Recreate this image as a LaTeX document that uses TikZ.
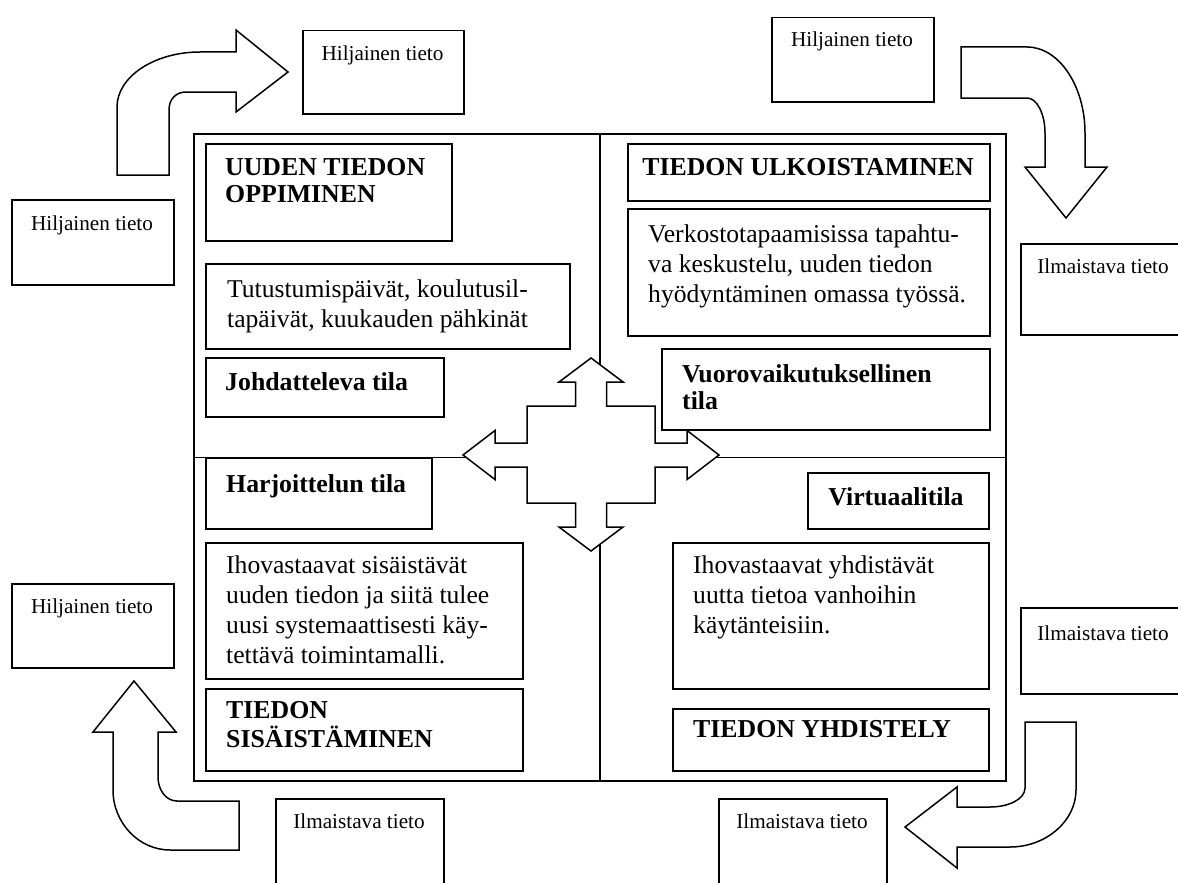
\documentclass[tikz,border=0pt]{standalone}
\usepackage{fontspec}
\setmainfont{Liberation Serif}
\newcommand{\bodyfont}{\fontsize{25.6}{30}\selectfont}
\newcommand{\headfont}{\bfseries\fontsize{25.8}{27.5}\selectfont}
\newcommand{\tagfont}{\fontsize{21.2}{24}\selectfont}
% stacked lines, anchored on the first baseline
\newcommand{\rows}[1]{\begin{tabular}[t]{@{}l@{}}#1\end{tabular}}

\begin{document}
\begin{tikzpicture}[x=1pt,y=-1pt,
  frame/.style={draw, line width=2.2pt},
  divider/.style={line width=1.5pt},
  panel/.style={draw, line width=1.6pt, anchor=north west, inner sep=0pt, fill=white},
  tag/.style={draw, line width=1.5pt, anchor=north west, inner sep=0pt, fill=white},
  body/.style={anchor=base west, inner sep=0pt, font=\bodyfont},
  head/.style={anchor=base west, inner sep=0pt, font=\headfont},
  small/.style={anchor=base, inner sep=0pt, font=\tagfont},
  bigarrow/.style={draw, fill=white, line width=1.5pt, line join=miter},
]
\clip (0,0) rectangle (1178,883);
\fill[white] (0,0) rectangle (1178,883);

% four-field frame
\node[frame, anchor=north west, inner sep=0pt, minimum width=812pt, minimum height=647pt] (frame) at (193,133) {};
\draw[divider] (frame.north) -- (frame.south);
\draw[divider] (frame.west) -- (frame.east);

% central four-way arrow
\draw[bigarrow, shift={(591,455)}] (0,-97) -- (32,-73) -- (15.5,-73) -- (15.5,-49) -- (64,-49) -- (64,-12)
  -- (96,-12) -- (96,-24.5) -- (128,0) -- (96,24.5) -- (96,12) -- (64,12) -- (64,48) -- (15.5,48)
  -- (15.5,72) -- (32,72) -- (0,96) -- (-32,72) -- (-15.5,72) -- (-15.5,48) -- (-64,48) -- (-64,12)
  -- (-96,12) -- (-96,24.5) -- (-128,0) -- (-96,-24.5) -- (-96,-12) -- (-64,-12) -- (-64,-49)
  -- (-15.5,-49) -- (-15.5,-73) -- (-32,-73) -- cycle;

% upper left field
\node[panel, minimum width=246pt, minimum height=97pt] (p1) at (205,143) {};
\node[head] (t1) at (225,175) {\rows{UUDEN TIEDON\\OPPIMINEN}};
\node[panel, minimum width=364pt, minimum height=85pt] (p2) at (205,263) {};
\node[body] (t2) at (227,297) {\rows{Tutustumispäivät, koulutusil-\\tapäivät, kuukauden pähkinät}};
\node[panel, minimum width=238pt, minimum height=59pt] (p3) at (205,357) {};
\node[head] (t3) at (225,390) {Johdatteleva tila};

% upper right field
\node[panel, minimum width=362pt, minimum height=57pt] (p4) at (627,143) {};
\node[head, anchor=base] (t4) at (808,175) {TIEDON ULKOISTAMINEN};
\node[panel, minimum width=362pt, minimum height=127pt] (p5) at (627,208) {};
\node[body] (t5) at (648,242) {\rows{Verkostotapaamisissa tapahtu-\\va keskustelu, uuden tiedon\\hyödyntäminen omassa työssä.}};
\node[panel, minimum width=328pt, minimum height=81pt] (p6) at (661,348) {};
\node[head] (t6) at (682,382) {\rows{Vuorovaikutuksellinen\\tila}};

% lower left field
\node[panel, minimum width=226pt, minimum height=71pt] (p7) at (205,457) {};
\node[head] (t7) at (226,492) {Harjoittelun tila};
\node[panel, minimum width=317pt, minimum height=136pt] (p8) at (205,542) {};
\node[body] (t8) at (226,573) {\rows{Ihovastaavat sisäistävät\\uuden tiedon ja siitä tulee\\uusi systemaattisesti käy-\\tettävä toimintamalli.}};
\node[panel, minimum width=317pt, minimum height=82pt] (p9) at (205,688) {};
\node[head] (t9) at (226,718) {\rows{TIEDON\\SISÄISTÄMINEN}};

% lower right field
\node[panel, minimum width=181pt, minimum height=56pt] (p10) at (807,472) {};
\node[head, anchor=base] (t10) at (896,505) {Virtuaalitila};
\node[panel, minimum width=316pt, minimum height=146pt] (p11) at (672,542) {};
\node[body] (t11) at (693,573) {\rows{Ihovastaavat yhdistävät\\uutta tietoa vanhoihin\\käytänteisiin.}};
\node[panel, minimum width=316pt, minimum height=62pt] (p12) at (672,708) {};
\node[head] (t12) at (693,737) {TIEDON YHDISTELY};

% knowledge tags around the frame
\node[tag, minimum width=161pt, minimum height=83pt] (o1) at (302,30) {};
\node[small] (s1) at (382.5,60) {Hiljainen tieto};
\node[tag, minimum width=162pt, minimum height=84pt] (o2) at (771,17) {};
\node[small] (s2) at (852,47) {Hiljainen tieto};
\node[tag, minimum width=162pt, minimum height=85pt] (o3) at (11,199) {};
\node[small] (s3) at (92,230) {Hiljainen tieto};
\node[tag, minimum width=162pt, minimum height=84pt] (o4) at (11,583) {};
\node[small] (s4) at (92,613) {Hiljainen tieto};
\node[tag, minimum width=162pt, minimum height=91pt] (o5) at (1020,243) {};
\node[small] (s5) at (1103,273) {Ilmaistava tieto};
\node[tag, minimum width=162pt, minimum height=86pt] (o6) at (1020,607) {};
\node[small] (s6) at (1103,640) {Ilmaistava tieto};
\node[tag, minimum width=168pt, minimum height=92pt] (o7) at (275,798) {};
\node[small] (s7) at (359,828) {Ilmaistava tieto};
\node[tag, minimum width=168pt, minimum height=92pt] (o8) at (718,798) {};
\node[small] (s8) at (802,828) {Ilmaistava tieto};

% bent arrows of the knowledge spiral
\draw[bigarrow] (117,175) -- (117,107) .. controls (117,77) and (154,52) .. (200,52) -- (236,52)
  -- (236,30) -- (288,72) -- (236,112) -- (236,92) -- (186,92)
  .. controls (176,92) and (169,99) .. (169,110) -- (169,175) -- cycle;
\draw[bigarrow] (961,47) -- (1027,47) .. controls (1059,47) and (1085,86) .. (1085,133) -- (1085,167)
  -- (1107,167) -- (1066,218) -- (1025,167) -- (1045,167) -- (1045,133)
  .. controls (1045,114) and (1037,98) .. (1027,98) -- (961,98) -- cycle;
\draw[bigarrow] (1025,722) -- (1076,722) -- (1076,790) .. controls (1076,821) and (1046,847) .. (1010,847)
  -- (957,847) -- (957,868) -- (905,827) -- (957,787) -- (957,807) -- (990,807)
  .. controls (1009,807) and (1025,799) .. (1025,788) -- cycle;
\draw[bigarrow] (239,801) -- (177,801) .. controls (166,801) and (158,790) .. (158,777) -- (158,732)
  -- (176,732) -- (134,681) -- (93,732) -- (113,732) -- (113,790)
  .. controls (113,823) and (139,850) .. (170,850) -- (239,850) -- cycle;
\end{tikzpicture}
\end{document}
